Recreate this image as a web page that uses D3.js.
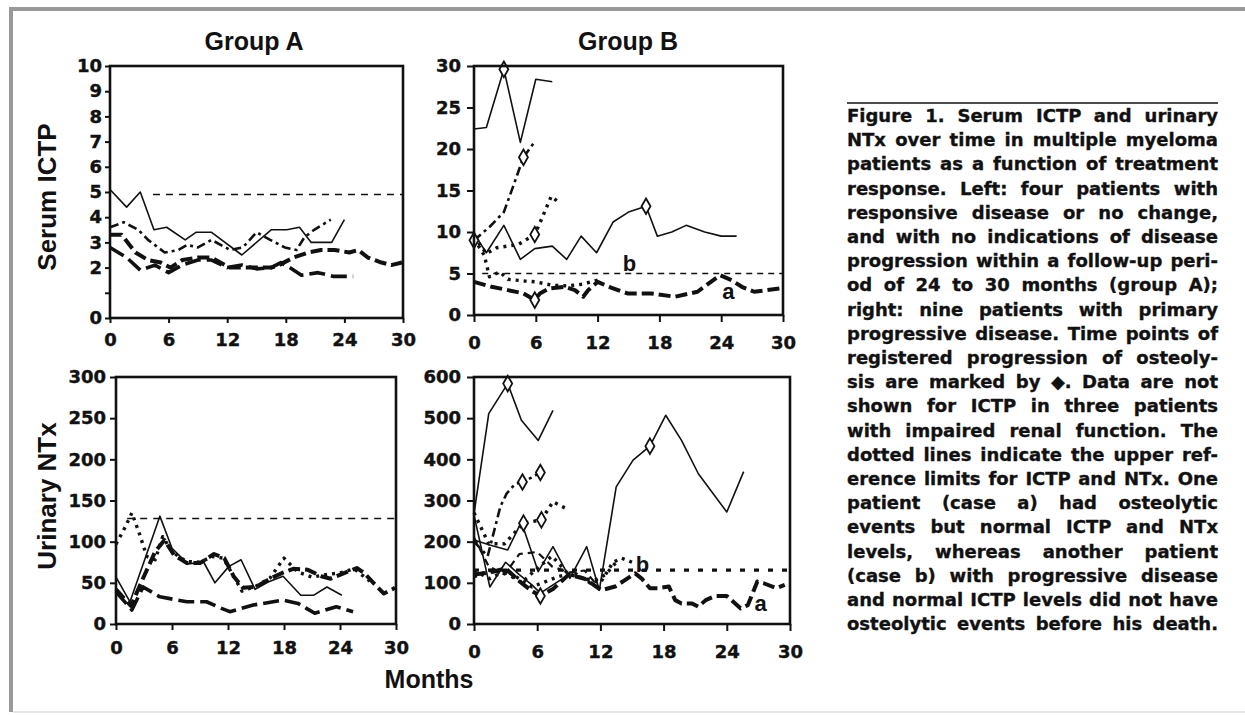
<!DOCTYPE html>
<html>
<head>
<meta charset="utf-8">
<script src="https://cdn.jsdelivr.net/npm/d3@7"></script>
<style>
  html, body { margin: 0; padding: 0; background: #fff; }
  svg { display: block; }
</style>
</head>
<body>
<svg id="fig" width="1245" height="715"></svg>
<script>
// ---------------- data (month, value) ----------------
const monthTicks = [0, 6, 12, 18, 24, 30];

// Serum ICTP, group A (four patients)
const ictpA1 = [[0,5.1],[1.7,4.4],[3.1,5.0],[4.5,3.5],[5.8,3.6],[7.7,3.1],[8.8,3.4],[10.4,3.4],[13.5,2.5],[16.5,3.5],[18.1,3.5],[19.4,3.6],[20.6,3.0],[22.7,3.0],[24.0,3.9]];
const ictpA2 = [[0,3.6],[1.4,3.8],[2.9,3.5],[3.9,3.1],[5.6,2.6],[7.0,2.7],[7.9,2.9],[9.0,2.8],[10.4,3.1],[12.3,2.7],[13.6,2.8],[15.0,3.4],[16.4,3.1],[17.9,2.8],[19.1,2.7],[19.9,3.2],[20.9,3.5],[22.6,3.9]];
const ictpA3 = [[0,3.3],[1.2,3.3],[2.6,2.6],[3.9,2.3],[5.2,2.2],[6.2,2.0],[7.4,2.3],[9.0,2.4],[10.4,2.4],[11.3,2.2],[12.3,2.0],[14.5,2.0],[16.5,2.0],[17.3,2.1],[18.8,2.4],[20.3,2.6],[21.6,2.7],[23.0,2.7],[24.5,2.6],[25.4,2.7],[26.4,2.4],[27.8,2.2],[28.8,2.1],[29.9,2.2]];
const ictpA4 = [[0,2.8],[1.7,2.4],[3.1,1.9],[4.6,2.1],[6.0,1.8],[7.4,2.1],[9.0,2.3],[10.4,2.3],[12.0,2.0],[13.5,2.1],[15.0,1.95],[16.5,2.0],[17.5,2.2],[18.4,2.0],[19.6,1.7],[21.3,1.8],[22.9,1.65],[24.9,1.65]];

// Serum ICTP, group B (six patients; B5 = case b, B6 = case a)
const ictpB1 = [[0,22.4],[1.2,22.6],[2.9,29.6],[4.5,20.8],[6.0,28.4],[7.6,28.1]];
const ictpB2 = [[0,9.8],[1.2,7.5],[2.9,10.8],[4.5,6.7],[5.9,8.0],[7.6,8.3],[9.0,6.7],[10.4,9.5],[11.9,7.5],[13.5,11.2],[15.0,12.4],[16.7,13.1],[17.8,9.5],[19.2,10.0],[20.6,10.8],[22.4,10.0],[24.0,9.5],[25.5,9.5]];
const ictpB3 = [[0,9.0],[1.5,10.6],[2.9,12.4],[3.8,15.5],[4.8,19.0],[5.9,20.9]];
const ictpB4 = [[0,9.5],[1.2,7.4],[2.2,8.1],[4.3,8.5],[5.9,9.7],[6.4,11.1],[7.5,14.3],[8.3,13.5]];
const ictpB5 = [[0,9.2],[1.0,7.2],[1.5,4.6],[2.5,5.2],[3.3,4.3],[4.9,4.1],[6.0,4.0],[7.5,3.6],[9.0,3.5],[10.5,3.7],[12.0,4.2]];
const ictpB6 = [[0,4.0],[1.7,3.4],[3.3,3.0],[4.8,2.6],[5.9,1.8],[6.4,2.6],[7.3,3.2],[8.8,3.4],[9.8,3.0],[10.6,2.2],[11.1,3.0],[12.0,4.0],[13.3,3.3],[14.9,2.6],[17.2,2.6],[19.5,2.2],[21.7,2.8],[23.0,4.0],[23.9,4.8],[25.0,4.2],[26.0,3.4],[27.2,2.8],[28.5,3.0],[29.7,3.2]];

// Urinary NTx, group A
const ntxA1 = [[0,57],[1.5,27],[4.7,131],[6.0,92],[7.7,73],[9.4,75],[10.6,50],[12.1,70],[13.4,78],[14.9,42],[16.3,51],[17.9,58],[19.8,35],[21.2,35],[22.6,45],[24.2,35]];
const ntxA2 = [[0,97],[1.0,118],[1.7,135],[2.5,110],[3.3,82],[4.2,78],[5.0,106],[6.0,88],[7.5,76],[9.0,75],[10.3,82],[11.5,80],[12.5,60],[13.5,40],[15.0,46],[16.5,56],[18.0,80],[19.5,63],[21.0,57],[22.5,60],[24.0,62],[25.5,67],[27.2,52]];
const ntxA3 = [[0,42],[1.6,22],[3.0,58],[4.2,88],[5.2,102],[6.2,84],[7.6,74],[9.0,74],[10.5,85],[11.6,80],[12.6,58],[13.6,44],[15.0,45],[16.5,55],[17.8,62],[19.0,67],[20.5,66],[22.0,58],[23.0,55],[24.5,62],[25.8,68],[26.6,62],[27.4,52],[28.7,37],[29.9,44]];
const ntxA4 = [[0,39],[1.7,17],[2.9,45],[4.7,33],[7.6,27],[9.7,27],[11.3,19],[12.2,15],[14.7,23],[17.9,29],[19.5,25],[20.4,19],[21.3,13],[23.6,21],[25.4,15]];

// Urinary NTx, group B (nine patients; B5 = case b, B6 = case a)
const ntxB1 = [[0,268],[1.4,511],[3.2,584],[4.5,495],[6.1,446],[7.5,519]];
const ntxB2 = [[0,204],[1.5,192],[3.2,180],[4.5,248],[6.1,127],[7.5,188],[9.1,111],[10.7,188],[11.9,82],[13.5,333],[15.1,398],[16.7,432],[18.2,507],[19.7,446],[21.3,365],[24.0,272],[25.6,370]];
const ntxB3 = [[0,200],[1.3,165],[2.5,285],[3.1,317],[3.9,340],[4.6,345],[5.4,355],[6.3,368]];
const ntxB4 = [[0,270],[1.4,195],[2.9,195],[4.7,245],[6.4,253],[7.5,297],[8.7,281]];
const ntxB5 = [[0,115],[1.5,130],[3.0,125],[4.5,100],[6.0,135],[7.4,165],[9.0,120],[10.7,110],[12.0,100],[13.2,150],[14.0,160],[15.0,150]];
const ntxB6 = [[0,120],[1.5,125],[3.0,135],[4.5,100],[5.5,80],[6.3,68],[7.5,85],[9.0,120],[10.5,110],[12.1,82],[13.4,91],[15.3,123],[15.9,111],[16.7,87],[17.5,87],[18.5,91],[19.1,58],[19.7,50],[20.7,50],[21.3,42],[22.0,58],[22.9,68],[24.0,68],[25.3,38],[26.0,46],[26.9,103],[27.5,99],[28.7,87],[29.5,95]];
const ntxB7 = [[0,265],[1.5,90],[3.0,150],[4.3,120],[5.5,95],[6.3,75],[7.5,95],[9.0,120],[10.5,110],[12.0,85]];
const ntxB8 = [[0,210],[1.4,140],[2.9,120],[4.3,170],[6.0,175],[7.4,140],[9.0,125],[10.5,130],[11.5,100]];
const ntxB9 = [[0,130],[1.5,110],[3.0,130],[4.3,110],[5.5,90],[6.5,100],[8.0,115],[9.5,125],[11.0,100],[12.5,120],[13.5,150]];

// upper reference limits
const refICTP_A = 4.9, refICTP_B = 5.0;
const refNTx_A = 128, refNTx_B = 131;

// y tick values and labels
const ictpTicksA = [0,1,2,3,4,5,6,7,8,9,10];
const ictpLabelsA = ["0","","2","3","4","5","6","7","8","9","10"];
const ictpTicksB = [0,5,10,15,20,25,30];
const ntxTicksA = [0,50,100,150,200,250,300];
const ntxTicksB = [0,100,200,300,400,500,600];

// osteolysis progression markers: [series index, point index]
const marksICTP_B = [[0,2],[1,11],[2,0],[2,4],[3,4],[5,4]];
const marksNTx_B = [[0,2],[1,11],[2,5],[2,7],[3,3],[3,4],[5,5]];

const captionLines = [
  "Figure 1. Serum ICTP and urinary",
  "NTx over time in multiple myeloma",
  "patients as a function of treatment",
  "response. Left: four patients with",
  "responsive disease or no change,",
  "and with no indications of disease",
  "progression within a follow-up peri-",
  "od of 24 to 30 months (group A);",
  "right: nine patients with primary",
  "progressive disease. Time points of",
  "registered progression of osteoly-",
  "sis are marked by \u25C6. Data are not",
  "shown for ICTP in three patients",
  "with impaired renal function. The",
  "dotted lines indicate the upper ref-",
  "erence limits for ICTP and NTx. One",
  "patient (case a) had osteolytic",
  "events but normal ICTP and NTx",
  "levels, whereas another patient",
  "(case b) with progressive disease",
  "and normal ICTP levels did not have",
  "osteolytic events before his death."
];

// ---------------- drawing ----------------
const svg = d3.select("#fig");
const INK = "#111";
const TICK_FONT = "'DejaVu Sans', sans-serif";
const TITLE_FONT = "'Liberation Sans', Arial, sans-serif";

svg.append("rect").attr("width", 1245).attr("height", 715).attr("fill", "#fff");

// page frame
svg.append("rect").attr("x", 9).attr("y", 7).attr("width", 1236).attr("height", 4).attr("fill", "#999");
svg.append("rect").attr("x", 9).attr("y", 7).attr("width", 4).attr("height", 705).attr("fill", "#999");
svg.append("rect").attr("x", 13).attr("y", 711).attr("width", 1232).attr("height", 2).attr("fill", "#e6e6e6");

const strokeStyles = {
  solid:     { w: 1.6, dash: null },
  dash:      { w: 2.2, dash: "7,5" },
  dashDot:   { w: 2.6, dash: "9,4,3,4" },
  heavyDash: { w: 4.0, dash: "12,5" },
  longDash:  { w: 3.6, dash: "16,6" },
  dot:       { w: 3.4, dash: "3,5" }
};

function drawPanel(cfg) {
  const x = d3.scaleLinear().domain([0, 30]).range([cfg.x0, cfg.x1]);
  const y = d3.scaleLinear().domain([0, cfg.yMax]).range([cfg.yb, cfg.yt]);
  const g = svg.append("g");

  // reference limit
  g.append("line")
    .attr("x1", x(cfg.refFrom)).attr("x2", x(30))
    .attr("y1", y(cfg.ref)).attr("y2", y(cfg.ref))
    .attr("stroke", INK).attr("stroke-width", cfg.refStyle.w)
    .attr("stroke-dasharray", cfg.refStyle.dash);

  // patient curves
  const line = d3.line().x(d => x(d[0])).y(d => y(d[1]));
  cfg.series.forEach((s, i) => {
    const st = strokeStyles[cfg.styles[i]];
    g.append("path").datum(s)
      .attr("d", line)
      .attr("fill", "none")
      .attr("stroke", INK)
      .attr("stroke-width", st.w)
      .attr("stroke-linejoin", "round")
      .attr("stroke-dasharray", st.dash);
  });

  // progression markers
  const diamond = d3.symbol().type(d3.symbolDiamond).size(70);
  (cfg.marks || []).forEach(([si, pi]) => {
    const p = cfg.series[si][pi];
    g.append("path").attr("d", diamond)
      .attr("transform", `translate(${x(p[0])},${y(p[1])})`)
      .attr("fill", "#fff").attr("stroke", INK).attr("stroke-width", 1.8);
  });

  // axes
  const yAxis = d3.axisLeft(y).tickValues(cfg.yTicks).tickSize(cfg.tickLen).tickPadding(cfg.yPad);
  if (cfg.yLabels) yAxis.tickFormat((d, i) => cfg.yLabels[i]);
  const gy = g.append("g").attr("transform", `translate(${cfg.x0},0)`).call(yAxis);
  const xAxis = d3.axisBottom(x).tickValues(monthTicks).tickSize(cfg.tickLen).tickPadding(cfg.xPad);
  const gx = g.append("g").attr("transform", `translate(0,${cfg.yb})`).call(xAxis);
  [gx, gy].forEach(a => {
    a.select(".domain").remove();
    a.selectAll(".tick line").attr("stroke", INK).attr("stroke-width", 2);
    a.selectAll(".tick text")
      .attr("font-family", TICK_FONT).attr("font-weight", "bold")
      .attr("font-size", 18).attr("fill", INK)
      .attr("stroke", INK).attr("stroke-width", 0.4);
  });

  // plot frame
  g.append("rect")
    .attr("x", cfg.x0).attr("y", cfg.yt)
    .attr("width", cfg.x1 - cfg.x0).attr("height", cfg.yb - cfg.yt)
    .attr("fill", "none").attr("stroke", INK).attr("stroke-width", 2.6);

  (cfg.notes || []).forEach(n => {
    g.append("text").attr("x", x(n.m)).attr("y", y(n.v))
      .attr("text-anchor", "middle")
      .attr("font-family", TITLE_FONT).attr("font-weight", "bold")
      .attr("font-size", 22).attr("fill", INK).text(n.t);
  });
  return { x, y };
}

drawPanel({
  x0: 110, x1: 403, yt: 66, yb: 318, yMax: 10,
  yTicks: ictpTicksA, yLabels: ictpLabelsA, tickLen: 5, yPad: 3, xPad: 10,
  series: [ictpA1, ictpA2, ictpA3, ictpA4],
  styles: ["solid", "dashDot", "heavyDash", "longDash"],
  ref: refICTP_A, refFrom: 4.4, refStyle: { w: 1.4, dash: "7,6" }
});

drawPanel({
  x0: 474, x1: 783, yt: 66, yb: 315, yMax: 30,
  yTicks: ictpTicksB, tickLen: 7, yPad: 6, xPad: 14,
  series: [ictpB1, ictpB2, ictpB3, ictpB4, ictpB5, ictpB6],
  styles: ["solid", "solid", "dashDot", "dot", "dot", "heavyDash"],
  marks: marksICTP_B,
  ref: refICTP_B, refFrom: 0.8, refStyle: { w: 1.4, dash: "6,5" },
  notes: [{ t: "b", m: 15.1, v: 5.25 }, { t: "a", m: 24.7, v: 1.9 }]
});

drawPanel({
  x0: 116, x1: 396, yt: 377, yb: 624, yMax: 300,
  yTicks: ntxTicksA, tickLen: 6, yPad: 4, xPad: 11,
  series: [ntxA1, ntxA2, ntxA3, ntxA4],
  styles: ["solid", "dot", "heavyDash", "longDash"],
  ref: refNTx_A, refFrom: 1.2, refStyle: { w: 1.5, dash: "7,6" }
});

drawPanel({
  x0: 474, x1: 790, yt: 377, yb: 624, yMax: 600,
  yTicks: ntxTicksB, tickLen: 7, yPad: 6, xPad: 14,
  series: [ntxB1, ntxB2, ntxB3, ntxB4, ntxB5, ntxB6, ntxB7, ntxB8, ntxB9],
  styles: ["solid", "solid", "dashDot", "dot", "dot", "heavyDash", "solid", "dash", "dot"],
  marks: marksNTx_B,
  ref: refNTx_B, refFrom: 0, refStyle: { w: 3.2, dash: "5,9" },
  notes: [{ t: "b", m: 16.0, v: 126 }, { t: "a", m: 27.2, v: 32 }]
});

// titles and axis names
function label(txt, x, y, size, rotate) {
  const t = svg.append("text")
    .attr("text-anchor", "middle")
    .attr("font-family", TITLE_FONT).attr("font-weight", "bold")
    .attr("font-size", size).attr("fill", INK).text(txt);
  if (rotate) t.attr("transform", `translate(${x},${y}) rotate(-90)`);
  else t.attr("x", x).attr("y", y);
}
label("Group A", 254, 50, 25);
label("Group B", 628, 50, 25);
label("Serum ICTP", 56, 197, 26, true);
label("Urinary NTx", 56, 496, 26, true);
label("Months", 429, 688, 25);

// caption: rule + justified lines
const capX = 847, capW = 371, capTop = 122, capLead = 24.2;
svg.append("line").attr("x1", capX).attr("x2", capX + capW)
  .attr("y1", 103).attr("y2", 103).attr("stroke", INK).attr("stroke-width", 1.5);
const cap = svg.append("g")
  .attr("font-family", "'DejaVu Sans', sans-serif")
  .attr("font-weight", "bold").attr("font-size", 18).attr("fill", INK)
  .attr("stroke", INK).attr("stroke-width", 0.35);
captionLines.forEach((line, i) => {
  const words = line.split(" ");
  const t = cap.append("text").attr("y", capTop + i * capLead);
  const spans = words.map(w => t.append("tspan").text(w));
  const widths = spans.map(s => s.node().getComputedTextLength());
  const gap = words.length > 1 ? (capW - d3.sum(widths)) / (words.length - 1) : 0;
  let cx = capX;
  spans.forEach((s, j) => { s.attr("x", cx); cx += widths[j] + gap; });
});
</script>
</body>
</html>
